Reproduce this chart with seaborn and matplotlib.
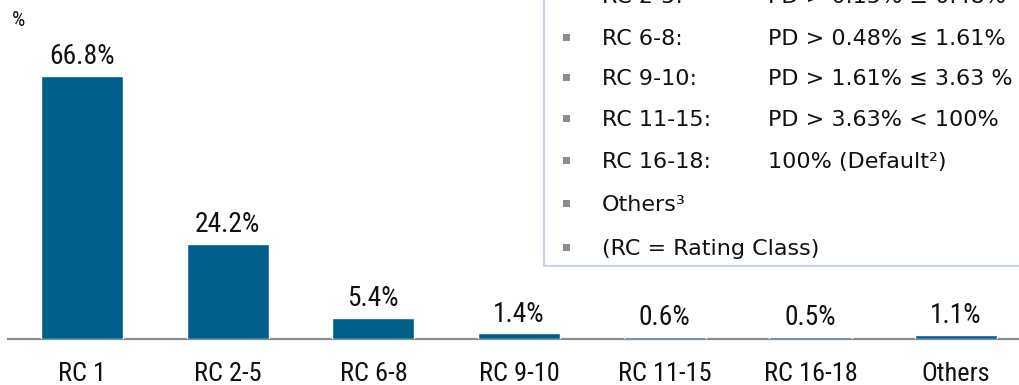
import matplotlib
matplotlib.use("Agg")
import matplotlib.pyplot as plt
import seaborn as sns
import pandas as pd
from matplotlib.patches import Rectangle
from matplotlib import font_manager

categories = ["RC 1", "RC 2-5", "RC 6-8", "RC 9-10", "RC 11-15", "RC 16-18", "Others"]
values = [66.8, 24.2, 5.4, 1.4, 0.6, 0.5, 1.1]
unit_label = "%"

legend_keys = ["RC 2-5:", "RC 6-8:", "RC 9-10:", "RC 11-15:", "RC 16-18:", "Others³", "(RC = Rating Class)"]
legend_desc = ["PD > 0.15% ≤ 0.48%", "PD > 0.48% ≤ 1.61%", "PD > 1.61% ≤ 3.63 %",
               "PD > 3.63% < 100%", "100% (Default²)", "", ""]

sns.set_theme(style="white")
plt.rcParams["font.family"] = ["DejaVu Sans"]

# choose a narrow font for the chart labels
entries = font_manager.fontManager.ttflist
names = {f.name for f in entries}
narrow_family, narrow_stretch, narrow_size = "Liberation Sans", "normal", 16
for cand, size in [("Liberation Sans Narrow", 18.5), ("Roboto Condensed", 19), ("Open Sans Condensed", 18),
                   ("Arial Narrow", 18.5)]:
    if cand in names:
        narrow_family, narrow_size = cand, size
        break
else:
    for f in entries:
        if f.name in ("DejaVu Sans", "Noto Sans", "Open Sans", "Roboto") and str(f.stretch) in ("condensed", "semi-condensed", "75", "87"):
            narrow_family, narrow_stretch, narrow_size = f.name, f.stretch, 16.5
            break
nfont = dict(fontfamily=narrow_family, fontstretch=narrow_stretch)

W, H = 1020, 385
fig = plt.figure(figsize=(W / 100, H / 100), dpi=100)
ax = fig.add_axes([8 / W, 46 / H, 1 - 8 / W, 339 / H])

bar_color = "#00608a"
df = pd.DataFrame({"cat": categories, "val": values})
sns.barplot(data=df, x="cat", y="val", color=bar_color, saturation=1, width=0.563, ax=ax, zorder=3)

ax.set_xlim(-0.508, 6.438)
ax.set_ylim(0, 339 / 3.94)
for s in ["top", "right", "left"]:
    ax.spines[s].set_visible(False)
ax.spines["bottom"].set_color("#8c8c8c")
ax.spines["bottom"].set_linewidth(1.6)
ax.spines["bottom"].set_zorder(1)
ax.set_yticks([])
ax.set_xlabel("")
ax.set_ylabel("")
ax.tick_params(axis="x", length=0, pad=16.5)
for lab in ax.get_xticklabels():
    lab.set_fontfamily(narrow_family)
    lab.set_fontstretch(narrow_stretch)
    lab.set_fontsize(narrow_size)
    lab.set_color("#111111")

ax.bar_label(ax.containers[0], labels=[f"{v}%" for v in values], padding=4,
             fontsize=narrow_size + 0.8, color="#111111", **nfont)


def px(x, y):
    return x / W, 1 - y / H


fig.text(*px(12, 21), unit_label, fontsize=15, va="center", ha="left", color="#111111", **nfont)

# legend box
x0, y0 = px(544, 266)
rect = Rectangle((x0, y0), 1.2, 1.0, transform=fig.transFigure, fill=True,
                 facecolor="white", edgecolor="#c5d6ec", linewidth=1.6, clip_on=False, zorder=5)
fig.patches.append(rect)

row_y = [-5, 37, 77, 118, 160, 203, 247]
for yy, k, d in zip(row_y, legend_keys, legend_desc):
    fig.patches.append(Rectangle(px(562.5, yy + 3.5), 7 / W, 7 / H, transform=fig.transFigure,
                                 facecolor="#8c8c8c", edgecolor="none", zorder=6))
    fig.text(*px(602, yy + 8), k, fontsize=16, va="baseline", ha="left", color="#111111", zorder=6)
    if d:
        fig.text(*px(768, yy + 8), d, fontsize=16, va="baseline", ha="left", color="#111111", zorder=6)

fig.savefig("out.png", dpi=100)
